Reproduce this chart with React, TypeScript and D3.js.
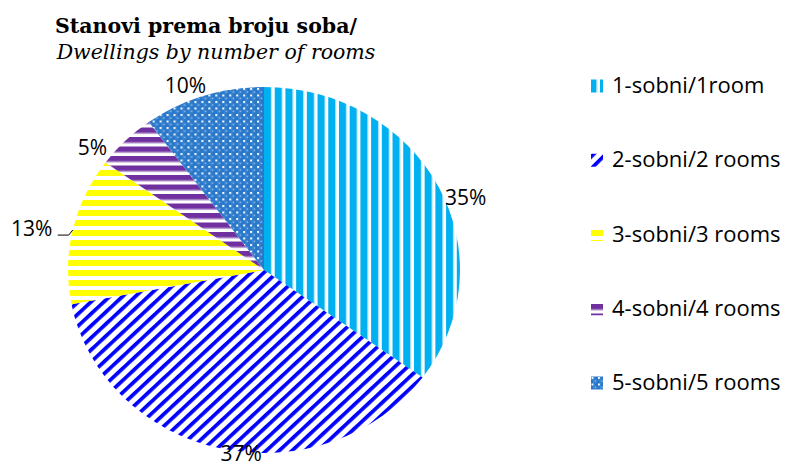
import React from 'react'
import * as d3 from 'd3'

// data
const categories = ['1-sobni/1room', '2-sobni/2 rooms', '3-sobni/3 rooms', '4-sobni/4 rooms', '5-sobni/5 rooms']
const shares = [35, 37, 13, 5, 10]
const titleLine1 = 'Stanovi prema broju soba/'
const titleLine2 = 'Dwellings by number of rooms'

const W = 787
const H = 468
const cx = 264
const cy = 270
const ry = 183
const rx = 196

// label offsets from the slice's outer edge (Excel "best fit" placement)
const labelNudge: [number, number][] = [
  [27, 11],
  [20, 5],
  [-41, -2],
  [-33, 7],
  [-18, -11],
]

const patternIds = ['p-vert', 'p-diag', 'p-yel', 'p-pur', 'p-check']

const Patterns = () => (
  <defs>
    <pattern id="p-vert" patternUnits="userSpaceOnUse" width={10} height={10}>
      <rect width={10} height={10} fill="#fff" />
      <rect x={0} width={6.5} height={10} fill="#00B0F0" />
      <rect x={6.5} width={1} height={10} fill="#9fdcf6" />
    </pattern>
    <pattern id="p-diag" patternUnits="userSpaceOnUse" width={8.5} height={8.5} patternTransform="rotate(45)">
      <rect width={8.5} height={8.5} fill="#fff" />
      <rect x={0} width={3.6} height={8.5} fill="#0000FF" />
    </pattern>
    <pattern id="p-yel" patternUnits="userSpaceOnUse" width={10} height={10}>
      <rect width={10} height={10} fill="#fff" />
      <rect y={0} width={10} height={6} fill="#FFFF00" />
    </pattern>
    <pattern id="p-pur" patternUnits="userSpaceOnUse" width={10} height={9.5}>
      <rect width={10} height={9.5} fill="#fff" />
      <rect y={0} width={10} height={5.5} fill="#7030A0" />
      <rect y={5.5} width={10} height={1} fill="#b9a0d0" />
    </pattern>
    <pattern id="p-check" patternUnits="userSpaceOnUse" width={6.5} height={6.5}>
      <rect width={6.5} height={6.5} fill="#2A78CA" />
      <rect x={0} y={0} width={2} height={2} fill="#f4f8fd" />
      <rect x={3.25} y={3.25} width={1.5} height={1.5} fill="#9cc2ec" />
      <rect x={2} y={0} width={1} height={6.5} fill="#3f88d3" />
    </pattern>
  </defs>
)

export default function App() {
  const pie = d3.pie<number>().sort(null).value(d => d)
  const arcs = pie(shares)
  const arc = d3.arc<d3.PieArcDatum<number>>().innerRadius(0).outerRadius(ry)
  const sx = rx / ry

  const fontSans = "'Open Sans', 'Liberation Sans', sans-serif"
  const fs = 21

  const legendY = d3.scalePoint<string>().domain(categories).range([93, 390])

  return (
    <svg width={W} height={H} style={{ position: 'absolute', left: 0, top: 0, background: '#fff' }}>
      <Patterns />
      <rect width={W} height={H} fill="#fff" />

      <text x={206} y={33} textAnchor="middle" fontFamily="'DejaVu Serif', serif" fontWeight="bold" fontSize={20.5} fill="#000">
        {titleLine1}
      </text>
      <text x={216} y={59} textAnchor="middle" fontFamily="'DejaVu Serif', serif" fontStyle="italic" fontSize={20.5} fill="#000">
        {titleLine2}
      </text>

      <g transform={`translate(${cx},${cy}) scale(${sx},1)`}>
        {arcs.map((a, i) => (
          <path key={i} d={arc(a) || ''} fill={`url(#${patternIds[i]})`} />
        ))}
      </g>

      {arcs.map((a, i) => {
        const mid = (a.startAngle + a.endAngle) / 2
        const ex = cx + rx * Math.sin(mid)
        const ey = cy - ry * Math.cos(mid)
        const lx = ex + labelNudge[i][0]
        const ly = ey + labelNudge[i][1]
        return (
          <g key={i}>
            {i === 2 && (
              <path d={`M${lx + 26},${ly + 7} H${ex - 4} L${ex},${ey}`} fill="none" stroke="#000" strokeWidth={1} />
            )}
            <text x={lx} y={ly + fs * 0.36} textAnchor="middle" fontFamily={fontSans} fontSize={fs} fill="#000">
              {`${shares[i]}%`}
            </text>
          </g>
        )
      })}

      {categories.map((c, i) => {
        const y = legendY(c) as number
        return (
          <g key={c}>
            <rect x={591} y={y - 13.5} width={12} height={13} fill={`url(#${patternIds[i]})`} />
            <text x={612} y={y} fontFamily={fontSans} fontSize={22} fill="#000">
              {c}
            </text>
          </g>
        )
      })}
    </svg>
  )
}
